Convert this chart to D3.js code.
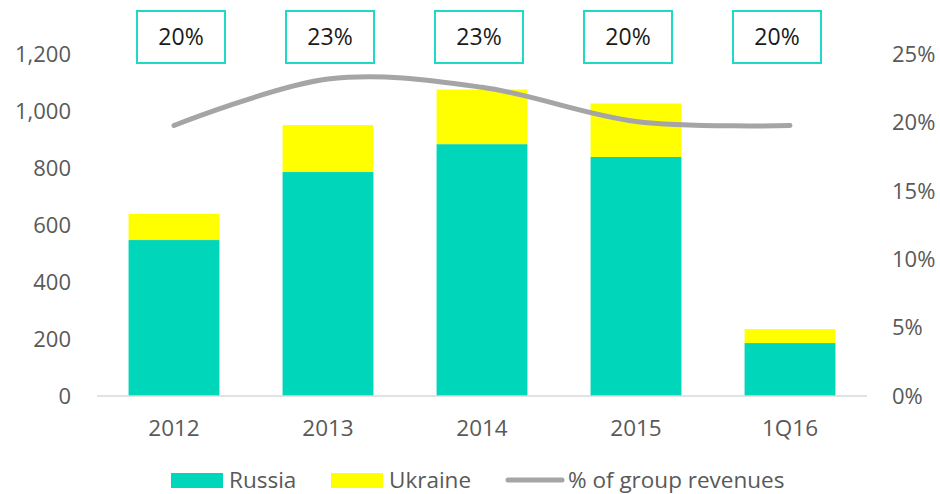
<!DOCTYPE html>
<html>
<head>
<meta charset="utf-8">
<script src="https://cdn.jsdelivr.net/npm/d3@7"></script>
<style>
  html, body { margin: 0; padding: 0; background: #fff; }
  svg { display: block; font-family: "Open Sans", sans-serif; }
</style>
</head>
<body>
<svg id="chart" width="940" height="494"></svg>
<script>
// Revenue by country (left axis) and share of group revenues (right axis)
const categories = ["2012", "2013", "2014", "2015", "1Q16"];
const russia  = [548, 787, 885, 840, 186];
const ukraine = [92, 165, 192, 188, 49];
const shareOfGroup = [0.198, 0.232, 0.226, 0.201, 0.198];

const leftTicks  = [0, 200, 400, 600, 800, 1000, 1200];
const rightTicks = [0, 0.05, 0.10, 0.15, 0.20, 0.25];

const seriesNames = ["Russia", "Ukraine", "% of group revenues"];
const colors = { russia: "#00D7BA", ukraine: "#FFFF00", line: "#A5A5A5", box: "#1FD9C4", text: "#595959" };

const svg = d3.select("#chart");
const plot = { left: 97, right: 867, top: 54.5, bottom: 396 };

const x = d3.scaleBand()
  .domain(categories)
  .range([plot.left, plot.right])
  .paddingInner(0.41)
  .paddingOuter(0.205);

const y = d3.scaleLinear().domain([0, 1200]).range([plot.bottom, plot.top]);
const yR = d3.scaleLinear().domain([0, 0.25]).range([plot.bottom, plot.top]);

// stacked bars
const rows = categories.map((c, i) => ({ cat: c, Russia: russia[i], Ukraine: ukraine[i] }));
const stack = d3.stack().keys(["Russia", "Ukraine"])(rows);
const fill = { Russia: colors.russia, Ukraine: colors.ukraine };

svg.append("g").selectAll("g")
  .data(stack)
  .join("g")
  .attr("fill", d => fill[d.key])
  .selectAll("rect")
  .data(d => d)
  .join("rect")
  .attr("x", d => x(d.data.cat))
  .attr("width", x.bandwidth())
  .attr("y", d => y(d[1]))
  .attr("height", d => y(d[0]) - y(d[1]));

// baseline
svg.append("line")
  .attr("x1", plot.left).attr("x2", plot.right)
  .attr("y1", y(0)).attr("y2", y(0))
  .attr("stroke", "#D9D9D9").attr("stroke-width", 1.5);

// left axis
const leftAxis = d3.axisLeft(y).tickValues(leftTicks).tickFormat(d3.format(",")).tickSize(0).tickPadding(0);
const gl = svg.append("g").attr("transform", "translate(71,0)").call(leftAxis);
gl.select(".domain").remove();
gl.selectAll("text").attr("fill", colors.text).attr("font-size", 22).attr("font-family", "Open Sans");

// right axis
const rightAxis = d3.axisRight(yR).tickValues(rightTicks).tickFormat(d3.format(".0%")).tickSize(0).tickPadding(0);
const gr = svg.append("g").attr("transform", "translate(892,0)").call(rightAxis);
gr.select(".domain").remove();
gr.selectAll("text").attr("fill", colors.text).attr("font-size", 22).attr("font-family", "Open Sans");

// category axis
const bottomAxis = d3.axisBottom(x).tickSize(0).tickPadding(0);
const gb = svg.append("g").attr("transform", "translate(0,420)").call(bottomAxis);
gb.select(".domain").remove();
gb.selectAll("text").attr("fill", colors.text).attr("font-size", 22.5).attr("font-family", "Open Sans");

// smoothed share line
const line = d3.line()
  .x((d, i) => x(categories[i]) + x.bandwidth() / 2)
  .y(d => yR(d))
  .curve(d3.curveCardinal.tension(0));

svg.append("path")
  .datum(shareOfGroup)
  .attr("d", line)
  .attr("fill", "none")
  .attr("stroke", colors.line)
  .attr("stroke-width", 5)
  .attr("stroke-linecap", "round");

// boxed share labels along the top
const boxX = d3.scalePoint().domain(categories).range([181, 777]);
const boxW = 88, boxH = 52, boxTop = 11;
const boxes = svg.append("g").selectAll("g")
  .data(categories)
  .join("g")
  .attr("transform", d => `translate(${boxX(d)},${boxTop})`);
boxes.append("rect")
  .attr("x", -boxW / 2).attr("y", 0)
  .attr("width", boxW).attr("height", boxH)
  .attr("fill", "#fff")
  .attr("stroke", colors.box).attr("stroke-width", 2);
boxes.append("text")
  .attr("x", 0).attr("y", boxH / 2)
  .attr("dy", "0.36em")
  .attr("text-anchor", "middle")
  .attr("font-size", 23)
  .attr("fill", "#1a1a1a")
  .text((d, i) => d3.format(".0%")(shareOfGroup[i]));

// legend
const legend = svg.append("g");
const legendItems = [
  { name: seriesNames[0], type: "rect", color: colors.russia, x: 171, tx: 229 },
  { name: seriesNames[1], type: "rect", color: colors.ukraine, x: 331, tx: 389 },
  { name: seriesNames[2], type: "line", color: colors.line, x: 508, tx: 568 }
];
legendItems.forEach(it => {
  if (it.type === "rect") {
    legend.append("rect").attr("x", it.x).attr("y", 473).attr("width", 52).attr("height", 15).attr("fill", it.color);
  } else {
    legend.append("line").attr("x1", it.x).attr("x2", it.x + 54).attr("y1", 480).attr("y2", 480)
      .attr("stroke", it.color).attr("stroke-width", 5).attr("stroke-linecap", "round");
  }
  legend.append("text").attr("x", it.tx).attr("y", 488)
    .attr("font-size", 22.5).attr("fill", colors.text).text(it.name);
});
</script>
</body>
</html>
